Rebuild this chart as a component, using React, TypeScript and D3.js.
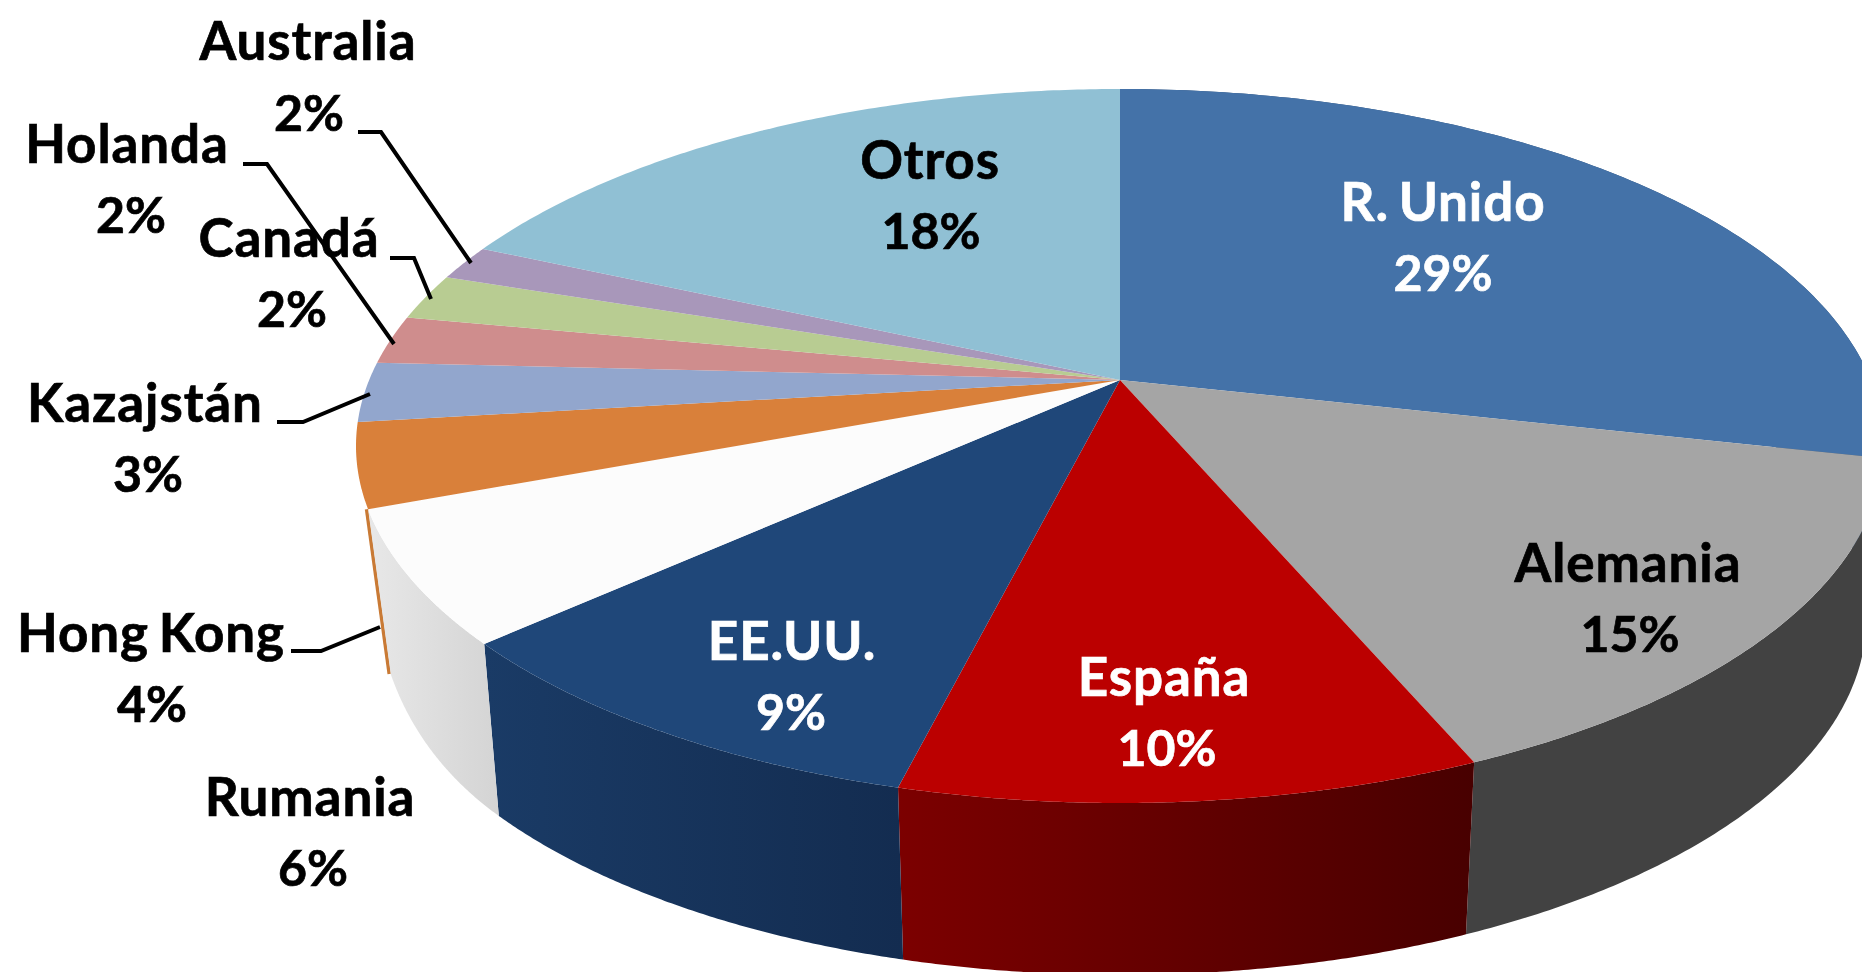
import React from "react";
import * as d3 from "d3";

const categories = ["R. Unido", "Alemania", "España", "EE.UU.", "Rumania", "Hong Kong", "Kazajstán", "Holanda", "Canadá", "Australia", "Otros"];
const values = [28.5, 15.1, 10.3, 9.4, 6.0, 3.8, 2.7, 2.2, 2.1, 1.6, 18.3];
const percentLabels = ["29%", "15%", "10%", "9%", "6%", "4%", "3%", "2%", "2%", "2%", "18%"];
const topColors = ["#4472a8", "#a5a5a5", "#bb0000", "#1f4779", "#fcfcfc", "#d9803a", "#92a6cd", "#cf8d8d", "#b8cc92", "#a897ba", "#90c0d4"];
const sideStart = ["#2f5078", "#424242", "#7c0000", "#1a3b66", "#e8e8e8", "", "", "", "", "", ""];
const sideEnd = ["#2f5078", "#424242", "#480000", "#132c50", "#d4d4d4", "", "", "", "", "", ""];
const labelColors = ["#fff", "#000", "#fff", "#fff", "#000", "#000", "#000", "#000", "#000", "#000", "#000"];

// [name x, name baseline, percent x, percent baseline]
const labelPlaces = [
  [1443, 221, 1443, 291], [1628, 582, 1630, 652], [1164, 696, 1167, 766], [792, 660, 791, 730],
  [310, 816, 313, 886], [151, 652, 152, 722], [145, 422, 148, 492], [127, 163, 131, 233],
  [289, 257, 292, 327], [308, 60, 309, 131], [930, 179, 931, 249],
];
const leaders = [
  [[358, 132], [381, 132], [471, 263]],
  [[243, 164], [267, 164], [394, 344]],
  [[390, 258], [414, 258], [431, 299]],
  [[277, 422], [303, 422], [370, 394]],
  [[291, 651], [321, 651], [380, 627]],
];

const W = 1862, H = 972;
const cx = 1120, cy = 446, rx = 764, ry = 357, tilt = -0.185;
const depth = 172, baseShrink = 0.977, rumaniaBaseTrim = 0.035, rumaniaLift = 20;

// Unit disc seen in perspective: the disc centre lands off the ellipse centre.
const top = (a: number): [number, number] => {
  const u = Math.sin(a), v = -Math.cos(a), w = 1 + tilt * v;
  return [cx + (rx * u * Math.sqrt(1 - tilt * tilt)) / w, cy + (ry * (v + tilt)) / w];
};
const base = (a: number): [number, number] => {
  const [x, y] = top(a);
  return [cx + (x - cx) * baseShrink, y + depth];
};
const samples = (a0: number, a1: number) => d3.range(0, 121).map((i) => a0 + ((a1 - a0) * i) / 120);
const line = d3.line<[number, number]>();

export default function App() {
  const arcs = d3.pie<number>().sort(null).value((d) => d)(values);
  const apexPoint: [number, number] = [cx, cy + ry * tilt];
  const rumania = arcs[4];
  const sliverTop = top(rumania.endAngle);
  const sliverEnd = base(rumania.endAngle - rumaniaBaseTrim);
  const font = "Lato, Carlito, Calibri, sans-serif";
  const rumaniaBase = samples(rumania.startAngle, rumania.endAngle - rumaniaBaseTrim).map((a, i): [number, number] => {
    const [x, y] = base(a);
    const t = 1 - i / 120;
    return [x, y - rumaniaLift * (1 - t) * (1 - t)];
  });
  return (
    <svg width={W} height={H} viewBox={`0 0 ${W} ${H}`} style={{ position: "fixed", left: 0, top: 0, background: "#fff" }}>
      <defs>
        {arcs.map((d, i) =>
          sideStart[i] ? (
            <linearGradient key={i} id={`side${i}`} x1="1" x2="0" y1="0" y2="0">
              <stop offset="0" stopColor={sideEnd[i]} />
              <stop offset="1" stopColor={sideStart[i]} />
            </linearGradient>
          ) : null
        )}
      </defs>
      <g>
        <line x1={sliverTop[0] - 1.5} y1={sliverTop[1]} x2={sliverEnd[0] - 1.5} y2={sliverEnd[1] - rumaniaLift} stroke="#c97a35" strokeWidth={3.5} />
        {arcs.map((d, i) => {
          if (!sideStart[i]) return null;
          const t = samples(d.startAngle, d.endAngle);
          const b = i === 4 ? rumaniaBase : t.map(base);
          const pts = [...t.map(top), ...[...b].reverse()];
          return <path key={i} d={line(pts)! + "Z"} fill={`url(#side${i})`} />;
        })}
      </g>
      <g>
        {arcs.map((d, i) => {
          const pts = [apexPoint, ...samples(d.startAngle, d.endAngle).map(top)];
          return <path key={i} d={line(pts)! + "Z"} fill={topColors[i]} />;
        })}
      </g>
      <g fill="none" stroke="#000" strokeWidth={4}>
        {leaders.map((l, i) => (
          <path key={i} d={line(l as [number, number][])!} />
        ))}
      </g>
      <g fontFamily={font} fontWeight={700} textAnchor="middle" strokeWidth={0.7}>
        {categories.map((c, i) => (
          <g key={c} fill={labelColors[i]} stroke={labelColors[i]}>
            <text x={labelPlaces[i][0]} y={labelPlaces[i][1]} fontSize={53} letterSpacing={0.9} wordSpacing={-4}>{c}</text>
            <text x={labelPlaces[i][2]} y={labelPlaces[i][3]} fontSize={50}>{percentLabels[i]}</text>
          </g>
        ))}
      </g>
    </svg>
  );
}
